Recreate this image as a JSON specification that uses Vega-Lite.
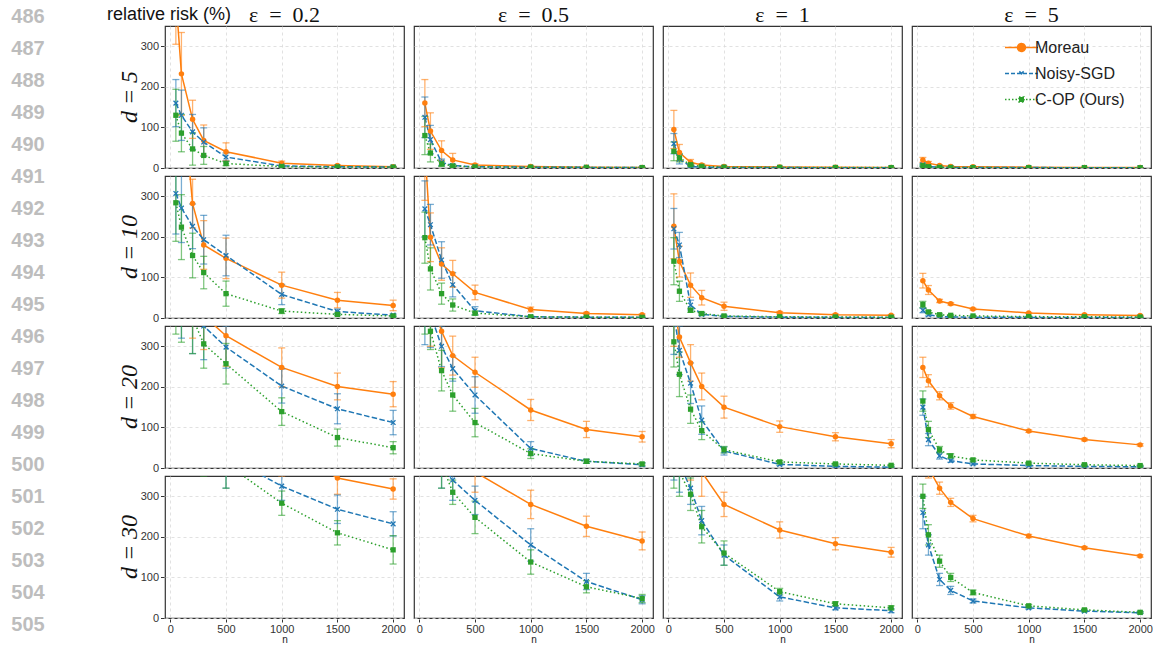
{
 "$schema": "https://vega.github.io/schema/vega-lite/v6.json",
 "padding": {"left": 10, "top": 4, "right": 0, "bottom": 0},
 "background": "white",
 "title": {"text": "relative risk (%)", "anchor": "start", "frame": "bounds", "dx": 97, "dy": 24, "fontSize": 18, "font": "Liberation Sans", "fontWeight": "normal", "color": "#111"},
 "datasets": {
  "lines": [{"k":486},{"k":487},{"k":488},{"k":489},{"k":490},{"k":491},{"k":492},{"k":493},{"k":494},{"k":495},{"k":496},{"k":497},{"k":498},{"k":499},{"k":500},{"k":501},{"k":502},{"k":503},{"k":504},{"k":505}],
  "risk": [
{"d":5,"e":0.2,"m":"Moreau","n":50,"y":420,"lo":305,"hi":535},{"d":5,"e":0.2,"m":"Moreau","n":100,"y":232,"lo":130,"hi":334},{"d":5,"e":0.2,"m":"Moreau","n":200,"y":120,"lo":73,"hi":167},{"d":5,"e":0.2,"m":"Moreau","n":300,"y":68,"lo":30,"hi":106},{"d":5,"e":0.2,"m":"Moreau","n":500,"y":40,"lo":18,"hi":62},{"d":5,"e":0.2,"m":"Moreau","n":1000,"y":12,"lo":7,"hi":17},{"d":5,"e":0.2,"m":"Moreau","n":1500,"y":6,"lo":4,"hi":8},{"d":5,"e":0.2,"m":"Moreau","n":2000,"y":3,"lo":1.5,"hi":4.5},
{"d":5,"e":0.2,"m":"Noisy-SGD","n":50,"y":160,"lo":102,"hi":218},{"d":5,"e":0.2,"m":"Noisy-SGD","n":100,"y":130,"lo":68,"hi":192},{"d":5,"e":0.2,"m":"Noisy-SGD","n":200,"y":89,"lo":46,"hi":132},{"d":5,"e":0.2,"m":"Noisy-SGD","n":300,"y":64,"lo":29,"hi":99},{"d":5,"e":0.2,"m":"Noisy-SGD","n":500,"y":27,"lo":17,"hi":37},{"d":5,"e":0.2,"m":"Noisy-SGD","n":1000,"y":5,"lo":3,"hi":7},{"d":5,"e":0.2,"m":"Noisy-SGD","n":1500,"y":3,"lo":2,"hi":4},{"d":5,"e":0.2,"m":"Noisy-SGD","n":2000,"y":2.5,"lo":1.5,"hi":3.5},
{"d":5,"e":0.2,"m":"C-OP (Ours)","n":50,"y":130,"lo":66,"hi":194},{"d":5,"e":0.2,"m":"C-OP (Ours)","n":100,"y":86,"lo":40,"hi":132},{"d":5,"e":0.2,"m":"C-OP (Ours)","n":200,"y":47,"lo":7,"hi":87},{"d":5,"e":0.2,"m":"C-OP (Ours)","n":300,"y":31,"lo":9,"hi":53},{"d":5,"e":0.2,"m":"C-OP (Ours)","n":500,"y":11,"lo":6,"hi":16},{"d":5,"e":0.2,"m":"C-OP (Ours)","n":1000,"y":3.5,"lo":2,"hi":5},{"d":5,"e":0.2,"m":"C-OP (Ours)","n":1500,"y":2.5,"lo":1.5,"hi":3.5},{"d":5,"e":0.2,"m":"C-OP (Ours)","n":2000,"y":2,"lo":1,"hi":3},
{"d":5,"e":0.5,"m":"Moreau","n":50,"y":160,"lo":102,"hi":218},{"d":5,"e":0.5,"m":"Moreau","n":100,"y":91,"lo":46,"hi":136},{"d":5,"e":0.5,"m":"Moreau","n":200,"y":43,"lo":19,"hi":67},{"d":5,"e":0.5,"m":"Moreau","n":300,"y":20,"lo":4,"hi":36},{"d":5,"e":0.5,"m":"Moreau","n":500,"y":7.5,"lo":4.5,"hi":10.5},{"d":5,"e":0.5,"m":"Moreau","n":1000,"y":3.5,"lo":2,"hi":5},{"d":5,"e":0.5,"m":"Moreau","n":1500,"y":2,"lo":1,"hi":3},{"d":5,"e":0.5,"m":"Moreau","n":2000,"y":1.5,"lo":0.7,"hi":2.3},
{"d":5,"e":0.5,"m":"Noisy-SGD","n":50,"y":125,"lo":75,"hi":175},{"d":5,"e":0.5,"m":"Noisy-SGD","n":100,"y":70,"lo":35,"hi":105},{"d":5,"e":0.5,"m":"Noisy-SGD","n":200,"y":14,"lo":6,"hi":22},{"d":5,"e":0.5,"m":"Noisy-SGD","n":300,"y":6,"lo":3,"hi":9},{"d":5,"e":0.5,"m":"Noisy-SGD","n":500,"y":3,"lo":1.5,"hi":4.5},{"d":5,"e":0.5,"m":"Noisy-SGD","n":1000,"y":2,"lo":1,"hi":3},{"d":5,"e":0.5,"m":"Noisy-SGD","n":1500,"y":1.5,"lo":0.7,"hi":2.3},{"d":5,"e":0.5,"m":"Noisy-SGD","n":2000,"y":1,"lo":0.5,"hi":1.5},
{"d":5,"e":0.5,"m":"C-OP (Ours)","n":50,"y":80,"lo":33,"hi":127},{"d":5,"e":0.5,"m":"C-OP (Ours)","n":100,"y":37,"lo":15,"hi":59},{"d":5,"e":0.5,"m":"C-OP (Ours)","n":200,"y":10,"lo":4,"hi":16},{"d":5,"e":0.5,"m":"C-OP (Ours)","n":300,"y":5,"lo":2.5,"hi":7.5},{"d":5,"e":0.5,"m":"C-OP (Ours)","n":500,"y":2.5,"lo":1.5,"hi":3.5},{"d":5,"e":0.5,"m":"C-OP (Ours)","n":1000,"y":2,"lo":1,"hi":3},{"d":5,"e":0.5,"m":"C-OP (Ours)","n":1500,"y":1.5,"lo":0.7,"hi":2.3},{"d":5,"e":0.5,"m":"C-OP (Ours)","n":2000,"y":1,"lo":0.5,"hi":1.5},
{"d":5,"e":1,"m":"Moreau","n":50,"y":95,"lo":48,"hi":142},{"d":5,"e":1,"m":"Moreau","n":100,"y":38,"lo":18,"hi":58},{"d":5,"e":1,"m":"Moreau","n":200,"y":14,"lo":7,"hi":21},{"d":5,"e":1,"m":"Moreau","n":300,"y":7.5,"lo":4.5,"hi":10.5},{"d":5,"e":1,"m":"Moreau","n":500,"y":4,"lo":2.5,"hi":5.5},{"d":5,"e":1,"m":"Moreau","n":1000,"y":2.5,"lo":1.5,"hi":3.5},{"d":5,"e":1,"m":"Moreau","n":1500,"y":2,"lo":1.2,"hi":2.8},{"d":5,"e":1,"m":"Moreau","n":2000,"y":1.5,"lo":0.9,"hi":2.1},
{"d":5,"e":1,"m":"Noisy-SGD","n":50,"y":60,"lo":35,"hi":85},{"d":5,"e":1,"m":"Noisy-SGD","n":100,"y":22,"lo":10,"hi":34},{"d":5,"e":1,"m":"Noisy-SGD","n":200,"y":4,"lo":2,"hi":6},{"d":5,"e":1,"m":"Noisy-SGD","n":300,"y":2,"lo":1,"hi":3},{"d":5,"e":1,"m":"Noisy-SGD","n":500,"y":1.5,"lo":0.9,"hi":2.1},{"d":5,"e":1,"m":"Noisy-SGD","n":1000,"y":1,"lo":0.5,"hi":1.5},{"d":5,"e":1,"m":"Noisy-SGD","n":1500,"y":0.8,"lo":0.4,"hi":1.2},{"d":5,"e":1,"m":"Noisy-SGD","n":2000,"y":0.7,"lo":0.4,"hi":1},
{"d":5,"e":1,"m":"C-OP (Ours)","n":50,"y":41,"lo":18,"hi":64},{"d":5,"e":1,"m":"C-OP (Ours)","n":100,"y":25,"lo":15,"hi":35},{"d":5,"e":1,"m":"C-OP (Ours)","n":200,"y":8,"lo":5,"hi":11},{"d":5,"e":1,"m":"C-OP (Ours)","n":300,"y":4,"lo":2,"hi":6},{"d":5,"e":1,"m":"C-OP (Ours)","n":500,"y":2,"lo":1,"hi":3},{"d":5,"e":1,"m":"C-OP (Ours)","n":1000,"y":1.5,"lo":0.9,"hi":2.1},{"d":5,"e":1,"m":"C-OP (Ours)","n":1500,"y":1.2,"lo":0.7,"hi":1.7},{"d":5,"e":1,"m":"C-OP (Ours)","n":2000,"y":1,"lo":0.6,"hi":1.4},
{"d":5,"e":5,"m":"Moreau","n":50,"y":20,"lo":14,"hi":26},{"d":5,"e":5,"m":"Moreau","n":100,"y":12,"lo":8,"hi":16},{"d":5,"e":5,"m":"Moreau","n":200,"y":6,"lo":4,"hi":8},{"d":5,"e":5,"m":"Moreau","n":300,"y":4,"lo":2.5,"hi":5.5},{"d":5,"e":5,"m":"Moreau","n":500,"y":3,"lo":2,"hi":4},{"d":5,"e":5,"m":"Moreau","n":1000,"y":2,"lo":1.4,"hi":2.6},{"d":5,"e":5,"m":"Moreau","n":1500,"y":1.5,"lo":1,"hi":2},{"d":5,"e":5,"m":"Moreau","n":2000,"y":1,"lo":0.6,"hi":1.4},
{"d":5,"e":5,"m":"Noisy-SGD","n":50,"y":8,"lo":5,"hi":11},{"d":5,"e":5,"m":"Noisy-SGD","n":100,"y":3.5,"lo":2,"hi":5},{"d":5,"e":5,"m":"Noisy-SGD","n":200,"y":2,"lo":1.2,"hi":2.8},{"d":5,"e":5,"m":"Noisy-SGD","n":300,"y":1.5,"lo":0.9,"hi":2.1},{"d":5,"e":5,"m":"Noisy-SGD","n":500,"y":1.2,"lo":0.7,"hi":1.7},{"d":5,"e":5,"m":"Noisy-SGD","n":1000,"y":1,"lo":0.6,"hi":1.4},{"d":5,"e":5,"m":"Noisy-SGD","n":1500,"y":0.8,"lo":0.5,"hi":1.1},{"d":5,"e":5,"m":"Noisy-SGD","n":2000,"y":0.7,"lo":0.4,"hi":1},
{"d":5,"e":5,"m":"C-OP (Ours)","n":50,"y":6,"lo":4,"hi":8},{"d":5,"e":5,"m":"C-OP (Ours)","n":100,"y":3,"lo":2,"hi":4},{"d":5,"e":5,"m":"C-OP (Ours)","n":200,"y":1.5,"lo":0.9,"hi":2.1},{"d":5,"e":5,"m":"C-OP (Ours)","n":300,"y":1.2,"lo":0.7,"hi":1.7},{"d":5,"e":5,"m":"C-OP (Ours)","n":500,"y":1,"lo":0.6,"hi":1.4},{"d":5,"e":5,"m":"C-OP (Ours)","n":1000,"y":0.8,"lo":0.5,"hi":1.1},{"d":5,"e":5,"m":"C-OP (Ours)","n":1500,"y":0.7,"lo":0.4,"hi":1},{"d":5,"e":5,"m":"C-OP (Ours)","n":2000,"y":0.6,"lo":0.4,"hi":0.8},
{"d":10,"e":0.2,"m":"Moreau","n":50,"y":900,"lo":650,"hi":1150},{"d":10,"e":0.2,"m":"Moreau","n":100,"y":580,"lo":380,"hi":780},{"d":10,"e":0.2,"m":"Moreau","n":200,"y":282,"lo":222,"hi":342},{"d":10,"e":0.2,"m":"Moreau","n":300,"y":180,"lo":120,"hi":240},{"d":10,"e":0.2,"m":"Moreau","n":500,"y":147,"lo":97,"hi":197},{"d":10,"e":0.2,"m":"Moreau","n":1000,"y":81,"lo":49,"hi":113},{"d":10,"e":0.2,"m":"Moreau","n":1500,"y":44,"lo":25,"hi":63},{"d":10,"e":0.2,"m":"Moreau","n":2000,"y":31,"lo":18,"hi":44},
{"d":10,"e":0.2,"m":"Noisy-SGD","n":50,"y":307,"lo":207,"hi":407},{"d":10,"e":0.2,"m":"Noisy-SGD","n":100,"y":271,"lo":186,"hi":356},{"d":10,"e":0.2,"m":"Noisy-SGD","n":200,"y":226,"lo":171,"hi":281},{"d":10,"e":0.2,"m":"Noisy-SGD","n":300,"y":193,"lo":133,"hi":253},{"d":10,"e":0.2,"m":"Noisy-SGD","n":500,"y":154,"lo":104,"hi":204},{"d":10,"e":0.2,"m":"Noisy-SGD","n":1000,"y":58,"lo":33,"hi":83},{"d":10,"e":0.2,"m":"Noisy-SGD","n":1500,"y":16,"lo":10,"hi":22},{"d":10,"e":0.2,"m":"Noisy-SGD","n":2000,"y":7,"lo":4,"hi":10},
{"d":10,"e":0.2,"m":"C-OP (Ours)","n":50,"y":284,"lo":189,"hi":379},{"d":10,"e":0.2,"m":"C-OP (Ours)","n":100,"y":224,"lo":144,"hi":304},{"d":10,"e":0.2,"m":"C-OP (Ours)","n":200,"y":154,"lo":99,"hi":209},{"d":10,"e":0.2,"m":"C-OP (Ours)","n":300,"y":112,"lo":72,"hi":152},{"d":10,"e":0.2,"m":"C-OP (Ours)","n":500,"y":60,"lo":29,"hi":91},{"d":10,"e":0.2,"m":"C-OP (Ours)","n":1000,"y":17,"lo":11,"hi":23},{"d":10,"e":0.2,"m":"C-OP (Ours)","n":1500,"y":9,"lo":6,"hi":12},{"d":10,"e":0.2,"m":"C-OP (Ours)","n":2000,"y":5,"lo":3,"hi":7},
{"d":10,"e":0.5,"m":"Moreau","n":50,"y":420,"lo":290,"hi":550},{"d":10,"e":0.5,"m":"Moreau","n":100,"y":199,"lo":139,"hi":259},{"d":10,"e":0.5,"m":"Moreau","n":200,"y":133,"lo":93,"hi":173},{"d":10,"e":0.5,"m":"Moreau","n":300,"y":109,"lo":76,"hi":142},{"d":10,"e":0.5,"m":"Moreau","n":500,"y":63,"lo":45,"hi":81},{"d":10,"e":0.5,"m":"Moreau","n":1000,"y":21,"lo":15,"hi":27},{"d":10,"e":0.5,"m":"Moreau","n":1500,"y":11,"lo":8,"hi":14},{"d":10,"e":0.5,"m":"Moreau","n":2000,"y":8,"lo":6,"hi":10},
{"d":10,"e":0.5,"m":"Noisy-SGD","n":50,"y":269,"lo":200,"hi":338},{"d":10,"e":0.5,"m":"Noisy-SGD","n":100,"y":230,"lo":180,"hi":280},{"d":10,"e":0.5,"m":"Noisy-SGD","n":200,"y":143,"lo":98,"hi":188},{"d":10,"e":0.5,"m":"Noisy-SGD","n":300,"y":82,"lo":52,"hi":112},{"d":10,"e":0.5,"m":"Noisy-SGD","n":500,"y":18,"lo":8,"hi":28},{"d":10,"e":0.5,"m":"Noisy-SGD","n":1000,"y":3,"lo":1.5,"hi":4.5},{"d":10,"e":0.5,"m":"Noisy-SGD","n":1500,"y":2,"lo":1,"hi":3},{"d":10,"e":0.5,"m":"Noisy-SGD","n":2000,"y":1.5,"lo":0.7,"hi":2.3},
{"d":10,"e":0.5,"m":"C-OP (Ours)","n":50,"y":198,"lo":135,"hi":261},{"d":10,"e":0.5,"m":"C-OP (Ours)","n":100,"y":121,"lo":69,"hi":173},{"d":10,"e":0.5,"m":"C-OP (Ours)","n":200,"y":60,"lo":34,"hi":86},{"d":10,"e":0.5,"m":"C-OP (Ours)","n":300,"y":32,"lo":17,"hi":47},{"d":10,"e":0.5,"m":"C-OP (Ours)","n":500,"y":12,"lo":7,"hi":17},{"d":10,"e":0.5,"m":"C-OP (Ours)","n":1000,"y":3,"lo":1.5,"hi":4.5},{"d":10,"e":0.5,"m":"C-OP (Ours)","n":1500,"y":2,"lo":1,"hi":3},{"d":10,"e":0.5,"m":"C-OP (Ours)","n":2000,"y":1.5,"lo":0.7,"hi":2.3},
{"d":10,"e":1,"m":"Moreau","n":50,"y":226,"lo":146,"hi":306},{"d":10,"e":1,"m":"Moreau","n":100,"y":139,"lo":101,"hi":177},{"d":10,"e":1,"m":"Moreau","n":200,"y":81,"lo":51,"hi":111},{"d":10,"e":1,"m":"Moreau","n":300,"y":50,"lo":32,"hi":68},{"d":10,"e":1,"m":"Moreau","n":500,"y":29,"lo":19,"hi":39},{"d":10,"e":1,"m":"Moreau","n":1000,"y":13,"lo":10,"hi":16},{"d":10,"e":1,"m":"Moreau","n":1500,"y":8,"lo":6,"hi":10},{"d":10,"e":1,"m":"Moreau","n":2000,"y":6.6,"lo":5.1,"hi":8.1},
{"d":10,"e":1,"m":"Noisy-SGD","n":50,"y":220,"lo":170,"hi":270},{"d":10,"e":1,"m":"Noisy-SGD","n":100,"y":180,"lo":149,"hi":211},{"d":10,"e":1,"m":"Noisy-SGD","n":200,"y":32,"lo":20,"hi":44},{"d":10,"e":1,"m":"Noisy-SGD","n":300,"y":9,"lo":6,"hi":12},{"d":10,"e":1,"m":"Noisy-SGD","n":500,"y":4,"lo":2.5,"hi":5.5},{"d":10,"e":1,"m":"Noisy-SGD","n":1000,"y":2,"lo":1.2,"hi":2.8},{"d":10,"e":1,"m":"Noisy-SGD","n":1500,"y":1.5,"lo":0.9,"hi":2.1},{"d":10,"e":1,"m":"Noisy-SGD","n":2000,"y":1,"lo":0.5,"hi":1.5},
{"d":10,"e":1,"m":"C-OP (Ours)","n":50,"y":140,"lo":82,"hi":198},{"d":10,"e":1,"m":"C-OP (Ours)","n":100,"y":66,"lo":41,"hi":91},{"d":10,"e":1,"m":"C-OP (Ours)","n":200,"y":19,"lo":14,"hi":24},{"d":10,"e":1,"m":"C-OP (Ours)","n":300,"y":11,"lo":8,"hi":14},{"d":10,"e":1,"m":"C-OP (Ours)","n":500,"y":5,"lo":3,"hi":7},{"d":10,"e":1,"m":"C-OP (Ours)","n":1000,"y":3,"lo":2,"hi":4},{"d":10,"e":1,"m":"C-OP (Ours)","n":1500,"y":2.5,"lo":1.5,"hi":3.5},{"d":10,"e":1,"m":"C-OP (Ours)","n":2000,"y":2,"lo":1.2,"hi":2.8},
{"d":10,"e":5,"m":"Moreau","n":50,"y":92,"lo":74,"hi":110},{"d":10,"e":5,"m":"Moreau","n":100,"y":69,"lo":58,"hi":80},{"d":10,"e":5,"m":"Moreau","n":200,"y":42,"lo":38,"hi":46},{"d":10,"e":5,"m":"Moreau","n":300,"y":35,"lo":32,"hi":38},{"d":10,"e":5,"m":"Moreau","n":500,"y":22,"lo":20,"hi":24},{"d":10,"e":5,"m":"Moreau","n":1000,"y":12.4,"lo":11.2,"hi":13.6},{"d":10,"e":5,"m":"Moreau","n":1500,"y":8,"lo":7,"hi":9},{"d":10,"e":5,"m":"Moreau","n":2000,"y":6,"lo":5.2,"hi":6.8},
{"d":10,"e":5,"m":"Noisy-SGD","n":50,"y":19,"lo":13,"hi":25},{"d":10,"e":5,"m":"Noisy-SGD","n":100,"y":8,"lo":5,"hi":11},{"d":10,"e":5,"m":"Noisy-SGD","n":200,"y":4,"lo":2.5,"hi":5.5},{"d":10,"e":5,"m":"Noisy-SGD","n":300,"y":2.5,"lo":1.5,"hi":3.5},{"d":10,"e":5,"m":"Noisy-SGD","n":500,"y":2,"lo":1.2,"hi":2.8},{"d":10,"e":5,"m":"Noisy-SGD","n":1000,"y":1.5,"lo":1,"hi":2},{"d":10,"e":5,"m":"Noisy-SGD","n":1500,"y":1.5,"lo":1,"hi":2},{"d":10,"e":5,"m":"Noisy-SGD","n":2000,"y":1.2,"lo":0.8,"hi":1.6},
{"d":10,"e":5,"m":"C-OP (Ours)","n":50,"y":33,"lo":25,"hi":41},{"d":10,"e":5,"m":"C-OP (Ours)","n":100,"y":15,"lo":12,"hi":18},{"d":10,"e":5,"m":"C-OP (Ours)","n":200,"y":8,"lo":6,"hi":10},{"d":10,"e":5,"m":"C-OP (Ours)","n":300,"y":6.6,"lo":5.1,"hi":8.1},{"d":10,"e":5,"m":"C-OP (Ours)","n":500,"y":5,"lo":4,"hi":6},{"d":10,"e":5,"m":"C-OP (Ours)","n":1000,"y":3.5,"lo":2.7,"hi":4.3},{"d":10,"e":5,"m":"C-OP (Ours)","n":1500,"y":3,"lo":2.3,"hi":3.7},{"d":10,"e":5,"m":"C-OP (Ours)","n":2000,"y":2.5,"lo":1.9,"hi":3.1},
{"d":20,"e":0.2,"m":"Moreau","n":50,"y":800,"lo":600,"hi":1000},{"d":20,"e":0.2,"m":"Moreau","n":100,"y":600,"lo":420,"hi":780},{"d":20,"e":0.2,"m":"Moreau","n":200,"y":450,"lo":320,"hi":580},{"d":20,"e":0.2,"m":"Moreau","n":300,"y":375,"lo":292,"hi":458},{"d":20,"e":0.2,"m":"Moreau","n":500,"y":326,"lo":251,"hi":401},{"d":20,"e":0.2,"m":"Moreau","n":1000,"y":248,"lo":200,"hi":296},{"d":20,"e":0.2,"m":"Moreau","n":1500,"y":201,"lo":168,"hi":234},{"d":20,"e":0.2,"m":"Moreau","n":2000,"y":182,"lo":151,"hi":213},
{"d":20,"e":0.2,"m":"Noisy-SGD","n":50,"y":700,"lo":450,"hi":950},{"d":20,"e":0.2,"m":"Noisy-SGD","n":100,"y":550,"lo":320,"hi":780},{"d":20,"e":0.2,"m":"Noisy-SGD","n":200,"y":420,"lo":282,"hi":558},{"d":20,"e":0.2,"m":"Noisy-SGD","n":300,"y":350,"lo":267,"hi":433},{"d":20,"e":0.2,"m":"Noisy-SGD","n":500,"y":298,"lo":246,"hi":350},{"d":20,"e":0.2,"m":"Noisy-SGD","n":1000,"y":202,"lo":160,"hi":244},{"d":20,"e":0.2,"m":"Noisy-SGD","n":1500,"y":146,"lo":109,"hi":183},{"d":20,"e":0.2,"m":"Noisy-SGD","n":2000,"y":112,"lo":82,"hi":142},
{"d":20,"e":0.2,"m":"C-OP (Ours)","n":50,"y":480,"lo":330,"hi":630},{"d":20,"e":0.2,"m":"C-OP (Ours)","n":100,"y":400,"lo":310,"hi":490},{"d":20,"e":0.2,"m":"C-OP (Ours)","n":200,"y":370,"lo":282,"hi":458},{"d":20,"e":0.2,"m":"C-OP (Ours)","n":300,"y":306,"lo":246,"hi":366},{"d":20,"e":0.2,"m":"C-OP (Ours)","n":500,"y":257,"lo":207,"hi":307},{"d":20,"e":0.2,"m":"C-OP (Ours)","n":1000,"y":139,"lo":105,"hi":173},{"d":20,"e":0.2,"m":"C-OP (Ours)","n":1500,"y":75,"lo":54,"hi":96},{"d":20,"e":0.2,"m":"C-OP (Ours)","n":2000,"y":50,"lo":35,"hi":65},
{"d":20,"e":0.5,"m":"Moreau","n":50,"y":550,"lo":400,"hi":700},{"d":20,"e":0.5,"m":"Moreau","n":100,"y":420,"lo":300,"hi":540},{"d":20,"e":0.5,"m":"Moreau","n":200,"y":337,"lo":247,"hi":427},{"d":20,"e":0.5,"m":"Moreau","n":300,"y":277,"lo":229,"hi":325},{"d":20,"e":0.5,"m":"Moreau","n":500,"y":236,"lo":199,"hi":273},{"d":20,"e":0.5,"m":"Moreau","n":1000,"y":143,"lo":117,"hi":169},{"d":20,"e":0.5,"m":"Moreau","n":1500,"y":95,"lo":75,"hi":115},{"d":20,"e":0.5,"m":"Moreau","n":2000,"y":77,"lo":64,"hi":90},
{"d":20,"e":0.5,"m":"Noisy-SGD","n":50,"y":420,"lo":304,"hi":536},{"d":20,"e":0.5,"m":"Noisy-SGD","n":100,"y":380,"lo":297,"hi":463},{"d":20,"e":0.5,"m":"Noisy-SGD","n":200,"y":300,"lo":250,"hi":350},{"d":20,"e":0.5,"m":"Noisy-SGD","n":300,"y":245,"lo":214,"hi":276},{"d":20,"e":0.5,"m":"Noisy-SGD","n":500,"y":180,"lo":135,"hi":225},{"d":20,"e":0.5,"m":"Noisy-SGD","n":1000,"y":48,"lo":31,"hi":65},{"d":20,"e":0.5,"m":"Noisy-SGD","n":1500,"y":16.5,"lo":11.5,"hi":21.5},{"d":20,"e":0.5,"m":"Noisy-SGD","n":2000,"y":8,"lo":4,"hi":12},
{"d":20,"e":0.5,"m":"C-OP (Ours)","n":50,"y":420,"lo":330,"hi":510},{"d":20,"e":0.5,"m":"C-OP (Ours)","n":100,"y":337,"lo":292,"hi":382},{"d":20,"e":0.5,"m":"C-OP (Ours)","n":200,"y":240,"lo":190,"hi":290},{"d":20,"e":0.5,"m":"C-OP (Ours)","n":300,"y":180,"lo":140,"hi":220},{"d":20,"e":0.5,"m":"C-OP (Ours)","n":500,"y":112,"lo":77,"hi":147},{"d":20,"e":0.5,"m":"C-OP (Ours)","n":1000,"y":35.5,"lo":23.5,"hi":47.5},{"d":20,"e":0.5,"m":"C-OP (Ours)","n":1500,"y":16.5,"lo":11.5,"hi":21.5},{"d":20,"e":0.5,"m":"C-OP (Ours)","n":2000,"y":10,"lo":7,"hi":13},
{"d":20,"e":1,"m":"Moreau","n":50,"y":400,"lo":300,"hi":500},{"d":20,"e":1,"m":"Moreau","n":100,"y":323,"lo":273,"hi":373},{"d":20,"e":1,"m":"Moreau","n":200,"y":259,"lo":214,"hi":304},{"d":20,"e":1,"m":"Moreau","n":300,"y":201,"lo":168,"hi":234},{"d":20,"e":1,"m":"Moreau","n":500,"y":150,"lo":123,"hi":177},{"d":20,"e":1,"m":"Moreau","n":1000,"y":102,"lo":88,"hi":116},{"d":20,"e":1,"m":"Moreau","n":1500,"y":77,"lo":67,"hi":87},{"d":20,"e":1,"m":"Moreau","n":2000,"y":60,"lo":50,"hi":70},
{"d":20,"e":1,"m":"Noisy-SGD","n":50,"y":380,"lo":280,"hi":480},{"d":20,"e":1,"m":"Noisy-SGD","n":100,"y":290,"lo":230,"hi":350},{"d":20,"e":1,"m":"Noisy-SGD","n":200,"y":209,"lo":159,"hi":259},{"d":20,"e":1,"m":"Noisy-SGD","n":300,"y":118,"lo":83,"hi":153},{"d":20,"e":1,"m":"Noisy-SGD","n":500,"y":42,"lo":32,"hi":52},{"d":20,"e":1,"m":"Noisy-SGD","n":1000,"y":9,"lo":6,"hi":12},{"d":20,"e":1,"m":"Noisy-SGD","n":1500,"y":4,"lo":2.5,"hi":5.5},{"d":20,"e":1,"m":"Noisy-SGD","n":2000,"y":2,"lo":1,"hi":3},
{"d":20,"e":1,"m":"C-OP (Ours)","n":50,"y":311,"lo":249,"hi":373},{"d":20,"e":1,"m":"C-OP (Ours)","n":100,"y":231,"lo":176,"hi":286},{"d":20,"e":1,"m":"C-OP (Ours)","n":200,"y":145,"lo":110,"hi":180},{"d":20,"e":1,"m":"C-OP (Ours)","n":300,"y":92,"lo":70,"hi":114},{"d":20,"e":1,"m":"C-OP (Ours)","n":500,"y":45,"lo":37,"hi":53},{"d":20,"e":1,"m":"C-OP (Ours)","n":1000,"y":15,"lo":12,"hi":18},{"d":20,"e":1,"m":"C-OP (Ours)","n":1500,"y":10,"lo":8,"hi":12},{"d":20,"e":1,"m":"C-OP (Ours)","n":2000,"y":6.6,"lo":4.6,"hi":8.6},
{"d":20,"e":5,"m":"Moreau","n":50,"y":248,"lo":223,"hi":273},{"d":20,"e":5,"m":"Moreau","n":100,"y":215,"lo":200,"hi":230},{"d":20,"e":5,"m":"Moreau","n":200,"y":178,"lo":168,"hi":188},{"d":20,"e":5,"m":"Moreau","n":300,"y":153,"lo":145,"hi":161},{"d":20,"e":5,"m":"Moreau","n":500,"y":127,"lo":122,"hi":132},{"d":20,"e":5,"m":"Moreau","n":1000,"y":91,"lo":88,"hi":94},{"d":20,"e":5,"m":"Moreau","n":1500,"y":70,"lo":67,"hi":73},{"d":20,"e":5,"m":"Moreau","n":2000,"y":57,"lo":54,"hi":60},
{"d":20,"e":5,"m":"Noisy-SGD","n":50,"y":150,"lo":130,"hi":170},{"d":20,"e":5,"m":"Noisy-SGD","n":100,"y":70,"lo":55,"hi":85},{"d":20,"e":5,"m":"Noisy-SGD","n":200,"y":30,"lo":22,"hi":38},{"d":20,"e":5,"m":"Noisy-SGD","n":300,"y":18,"lo":14,"hi":22},{"d":20,"e":5,"m":"Noisy-SGD","n":500,"y":10,"lo":8,"hi":12},{"d":20,"e":5,"m":"Noisy-SGD","n":1000,"y":6,"lo":4.5,"hi":7.5},{"d":20,"e":5,"m":"Noisy-SGD","n":1500,"y":4,"lo":3,"hi":5},{"d":20,"e":5,"m":"Noisy-SGD","n":2000,"y":3,"lo":2,"hi":4},
{"d":20,"e":5,"m":"C-OP (Ours)","n":50,"y":165,"lo":140,"hi":190},{"d":20,"e":5,"m":"C-OP (Ours)","n":100,"y":95,"lo":75,"hi":115},{"d":20,"e":5,"m":"C-OP (Ours)","n":200,"y":45,"lo":37,"hi":53},{"d":20,"e":5,"m":"C-OP (Ours)","n":300,"y":30,"lo":25,"hi":35},{"d":20,"e":5,"m":"C-OP (Ours)","n":500,"y":20,"lo":17,"hi":23},{"d":20,"e":5,"m":"C-OP (Ours)","n":1000,"y":12,"lo":10,"hi":14},{"d":20,"e":5,"m":"C-OP (Ours)","n":1500,"y":8,"lo":6.5,"hi":9.5},{"d":20,"e":5,"m":"C-OP (Ours)","n":2000,"y":6,"lo":5,"hi":7},
{"d":30,"e":0.2,"m":"Moreau","n":50,"y":1100,"lo":800,"hi":1400},{"d":30,"e":0.2,"m":"Moreau","n":100,"y":900,"lo":650,"hi":1150},{"d":30,"e":0.2,"m":"Moreau","n":200,"y":700,"lo":500,"hi":900},{"d":30,"e":0.2,"m":"Moreau","n":300,"y":600,"lo":450,"hi":750},{"d":30,"e":0.2,"m":"Moreau","n":500,"y":520,"lo":400,"hi":640},{"d":30,"e":0.2,"m":"Moreau","n":1000,"y":430,"lo":350,"hi":510},{"d":30,"e":0.2,"m":"Moreau","n":1500,"y":345,"lo":305,"hi":385},{"d":30,"e":0.2,"m":"Moreau","n":2000,"y":318,"lo":293,"hi":343},
{"d":30,"e":0.2,"m":"Noisy-SGD","n":50,"y":900,"lo":650,"hi":1150},{"d":30,"e":0.2,"m":"Noisy-SGD","n":100,"y":700,"lo":500,"hi":900},{"d":30,"e":0.2,"m":"Noisy-SGD","n":200,"y":550,"lo":400,"hi":700},{"d":30,"e":0.2,"m":"Noisy-SGD","n":300,"y":480,"lo":360,"hi":600},{"d":30,"e":0.2,"m":"Noisy-SGD","n":500,"y":400,"lo":320,"hi":480},{"d":30,"e":0.2,"m":"Noisy-SGD","n":1000,"y":325,"lo":290,"hi":360},{"d":30,"e":0.2,"m":"Noisy-SGD","n":1500,"y":268,"lo":233,"hi":303},{"d":30,"e":0.2,"m":"Noisy-SGD","n":2000,"y":232,"lo":202,"hi":262},
{"d":30,"e":0.2,"m":"C-OP (Ours)","n":50,"y":800,"lo":600,"hi":1000},{"d":30,"e":0.2,"m":"C-OP (Ours)","n":100,"y":650,"lo":470,"hi":830},{"d":30,"e":0.2,"m":"C-OP (Ours)","n":200,"y":520,"lo":400,"hi":640},{"d":30,"e":0.2,"m":"C-OP (Ours)","n":300,"y":450,"lo":350,"hi":550},{"d":30,"e":0.2,"m":"C-OP (Ours)","n":500,"y":380,"lo":320,"hi":440},{"d":30,"e":0.2,"m":"C-OP (Ours)","n":1000,"y":283,"lo":253,"hi":313},{"d":30,"e":0.2,"m":"C-OP (Ours)","n":1500,"y":210,"lo":180,"hi":240},{"d":30,"e":0.2,"m":"C-OP (Ours)","n":2000,"y":168,"lo":133,"hi":203},
{"d":30,"e":0.5,"m":"Moreau","n":50,"y":900,"lo":700,"hi":1100},{"d":30,"e":0.5,"m":"Moreau","n":100,"y":700,"lo":550,"hi":850},{"d":30,"e":0.5,"m":"Moreau","n":200,"y":550,"lo":450,"hi":650},{"d":30,"e":0.5,"m":"Moreau","n":300,"y":450,"lo":380,"hi":520},{"d":30,"e":0.5,"m":"Moreau","n":500,"y":360,"lo":310,"hi":410},{"d":30,"e":0.5,"m":"Moreau","n":1000,"y":280,"lo":245,"hi":315},{"d":30,"e":0.5,"m":"Moreau","n":1500,"y":226,"lo":201,"hi":251},{"d":30,"e":0.5,"m":"Moreau","n":2000,"y":190,"lo":168,"hi":212},
{"d":30,"e":0.5,"m":"Noisy-SGD","n":50,"y":600,"lo":480,"hi":720},{"d":30,"e":0.5,"m":"Noisy-SGD","n":100,"y":450,"lo":370,"hi":530},{"d":30,"e":0.5,"m":"Noisy-SGD","n":200,"y":380,"lo":320,"hi":440},{"d":30,"e":0.5,"m":"Noisy-SGD","n":300,"y":340,"lo":290,"hi":390},{"d":30,"e":0.5,"m":"Noisy-SGD","n":500,"y":290,"lo":255,"hi":325},{"d":30,"e":0.5,"m":"Noisy-SGD","n":1000,"y":180,"lo":140,"hi":220},{"d":30,"e":0.5,"m":"Noisy-SGD","n":1500,"y":90,"lo":70,"hi":110},{"d":30,"e":0.5,"m":"Noisy-SGD","n":2000,"y":45,"lo":35,"hi":55},
{"d":30,"e":0.5,"m":"C-OP (Ours)","n":50,"y":500,"lo":400,"hi":600},{"d":30,"e":0.5,"m":"C-OP (Ours)","n":100,"y":450,"lo":370,"hi":530},{"d":30,"e":0.5,"m":"C-OP (Ours)","n":200,"y":380,"lo":320,"hi":440},{"d":30,"e":0.5,"m":"C-OP (Ours)","n":300,"y":310,"lo":280,"hi":340},{"d":30,"e":0.5,"m":"C-OP (Ours)","n":500,"y":248,"lo":208,"hi":288},{"d":30,"e":0.5,"m":"C-OP (Ours)","n":1000,"y":138,"lo":108,"hi":168},{"d":30,"e":0.5,"m":"C-OP (Ours)","n":1500,"y":77,"lo":62,"hi":92},{"d":30,"e":0.5,"m":"C-OP (Ours)","n":2000,"y":48,"lo":38,"hi":58},
{"d":30,"e":1,"m":"Moreau","n":50,"y":500,"lo":400,"hi":600},{"d":30,"e":1,"m":"Moreau","n":100,"y":450,"lo":370,"hi":530},{"d":30,"e":1,"m":"Moreau","n":200,"y":400,"lo":340,"hi":460},{"d":30,"e":1,"m":"Moreau","n":300,"y":360,"lo":300,"hi":420},{"d":30,"e":1,"m":"Moreau","n":500,"y":280,"lo":250,"hi":310},{"d":30,"e":1,"m":"Moreau","n":1000,"y":217,"lo":197,"hi":237},{"d":30,"e":1,"m":"Moreau","n":1500,"y":183,"lo":168,"hi":198},{"d":30,"e":1,"m":"Moreau","n":2000,"y":162,"lo":150,"hi":174},
{"d":30,"e":1,"m":"Noisy-SGD","n":50,"y":420,"lo":340,"hi":500},{"d":30,"e":1,"m":"Noisy-SGD","n":100,"y":380,"lo":310,"hi":450},{"d":30,"e":1,"m":"Noisy-SGD","n":200,"y":320,"lo":280,"hi":360},{"d":30,"e":1,"m":"Noisy-SGD","n":300,"y":240,"lo":205,"hi":275},{"d":30,"e":1,"m":"Noisy-SGD","n":500,"y":155,"lo":130,"hi":180},{"d":30,"e":1,"m":"Noisy-SGD","n":1000,"y":52,"lo":42,"hi":62},{"d":30,"e":1,"m":"Noisy-SGD","n":1500,"y":25,"lo":20,"hi":30},{"d":30,"e":1,"m":"Noisy-SGD","n":2000,"y":18,"lo":13,"hi":23},
{"d":30,"e":1,"m":"C-OP (Ours)","n":50,"y":400,"lo":320,"hi":480},{"d":30,"e":1,"m":"C-OP (Ours)","n":100,"y":360,"lo":300,"hi":420},{"d":30,"e":1,"m":"C-OP (Ours)","n":200,"y":305,"lo":265,"hi":345},{"d":30,"e":1,"m":"C-OP (Ours)","n":300,"y":225,"lo":185,"hi":265},{"d":30,"e":1,"m":"C-OP (Ours)","n":500,"y":160,"lo":130,"hi":190},{"d":30,"e":1,"m":"C-OP (Ours)","n":1000,"y":65,"lo":57,"hi":73},{"d":30,"e":1,"m":"C-OP (Ours)","n":1500,"y":35,"lo":30,"hi":40},{"d":30,"e":1,"m":"C-OP (Ours)","n":2000,"y":25,"lo":20,"hi":30},
{"d":30,"e":5,"m":"Moreau","n":50,"y":450,"lo":390,"hi":510},{"d":30,"e":5,"m":"Moreau","n":100,"y":370,"lo":345,"hi":395},{"d":30,"e":5,"m":"Moreau","n":200,"y":320,"lo":305,"hi":335},{"d":30,"e":5,"m":"Moreau","n":300,"y":285,"lo":275,"hi":295},{"d":30,"e":5,"m":"Moreau","n":500,"y":245,"lo":237,"hi":253},{"d":30,"e":5,"m":"Moreau","n":1000,"y":202,"lo":198,"hi":206},{"d":30,"e":5,"m":"Moreau","n":1500,"y":173,"lo":170,"hi":176},{"d":30,"e":5,"m":"Moreau","n":2000,"y":153,"lo":150,"hi":156},
{"d":30,"e":5,"m":"Noisy-SGD","n":50,"y":260,"lo":220,"hi":300},{"d":30,"e":5,"m":"Noisy-SGD","n":100,"y":180,"lo":155,"hi":205},{"d":30,"e":5,"m":"Noisy-SGD","n":200,"y":95,"lo":80,"hi":110},{"d":30,"e":5,"m":"Noisy-SGD","n":300,"y":68,"lo":58,"hi":78},{"d":30,"e":5,"m":"Noisy-SGD","n":500,"y":42,"lo":37,"hi":47},{"d":30,"e":5,"m":"Noisy-SGD","n":1000,"y":25,"lo":22,"hi":28},{"d":30,"e":5,"m":"Noisy-SGD","n":1500,"y":17,"lo":15,"hi":19},{"d":30,"e":5,"m":"Noisy-SGD","n":2000,"y":13,"lo":11,"hi":15},
{"d":30,"e":5,"m":"C-OP (Ours)","n":50,"y":300,"lo":270,"hi":330},{"d":30,"e":5,"m":"C-OP (Ours)","n":100,"y":205,"lo":180,"hi":230},{"d":30,"e":5,"m":"C-OP (Ours)","n":200,"y":140,"lo":125,"hi":155},{"d":30,"e":5,"m":"C-OP (Ours)","n":300,"y":100,"lo":90,"hi":110},{"d":30,"e":5,"m":"C-OP (Ours)","n":500,"y":63,"lo":57,"hi":69},{"d":30,"e":5,"m":"C-OP (Ours)","n":1000,"y":30,"lo":27,"hi":33},{"d":30,"e":5,"m":"C-OP (Ours)","n":1500,"y":20,"lo":18,"hi":22},{"d":30,"e":5,"m":"C-OP (Ours)","n":2000,"y":14,"lo":12,"hi":16}
  ]
 },
 "spacing": 72,
 "hconcat": [
  {
   "data": {"name": "lines"},
   "width": 36,
   "height": 560,
   "view": {"stroke": null},
   "mark": {"type": "text", "font": "Liberation Sans", "fontWeight": "bold", "fontSize": 20, "color": "#bdbdbd"},
   "encoding": {
    "y": {"field": "k", "type": "quantitative", "axis": null, "scale": {"domain": [486.28125, 503.78125], "reverse": true, "zero": false, "nice": false}},
    "text": {"field": "k", "type": "nominal"}
   }
  },
  {
   "data": {"name": "risk"},
   "spacing": {"row": 6, "column": 8},
   "facet": {
    "row": {"field": "d", "type": "ordinal", "title": null, "header": {"labelExpr": "'d = ' + datum.value", "labelFont": "Liberation Serif", "labelFontSize": 24, "labelFontStyle": "italic", "labelColor": "#111", "labelAngle": -90, "labelPadding": -14}},
    "column": {"field": "e", "type": "ordinal", "title": null, "header": {"labelExpr": "'ε\u2002=\u2002' + datum.value", "labelFont": "Liberation Serif", "labelFontSize": 22, "labelColor": "#111", "labelPadding": -2}}
   },
   "spec": {
    "width": 239,
    "height": 142,
    "encoding": {
     "x": {"field": "n", "type": "quantitative", "scale": {"domain": [-47.5, 2097.5], "nice": false, "zero": false}, "axis": {"values": [0, 500, 1000, 1500, 2000], "format": "d", "title": "n", "titlePadding": 0, "titleFontSize": 10, "labelPadding": 1, "tickSize": 3}}
    },
    "layer": [
     {"mark": {"type": "line", "clip": true, "color": "#ff7f0e", "strokeWidth": 1.5}, "transform": [{"filter": "datum.m === 'Moreau'"}], "encoding": {"y": {"field": "y", "type": "quantitative", "title": null, "scale": {"domain": [0, 350], "nice": false}, "axis": {"values": [0, 100, 200, 300], "title": null}}}},
     {"mark": {"type": "line", "clip": true, "color": "#1f77b4", "strokeWidth": 1.5, "strokeDash": [5.5, 2.4]}, "transform": [{"filter": "datum.m === 'Noisy-SGD'"}], "encoding": {"y": {"field": "y", "type": "quantitative", "title": null}}},
     {"mark": {"type": "line", "clip": true, "color": "#2ca02c", "strokeWidth": 1.5, "strokeDash": [1.5, 2.5]}, "transform": [{"filter": "datum.m === 'C-OP (Ours)'"}], "encoding": {"y": {"field": "y", "type": "quantitative", "title": null}}},
     {"mark": {"type": "rule", "clip": true, "strokeWidth": 1.3, "opacity": 0.6, "color": "#ff7f0e"}, "transform": [{"filter": "datum.m === 'Moreau'"}], "encoding": {"y": {"field": "lo", "type": "quantitative", "title": null}, "y2": {"field": "hi"}}},
     {"mark": {"type": "rule", "clip": true, "strokeWidth": 1.3, "opacity": 0.6, "color": "#1f77b4"}, "transform": [{"filter": "datum.m === 'Noisy-SGD'"}], "encoding": {"y": {"field": "lo", "type": "quantitative", "title": null}, "y2": {"field": "hi"}}},
     {"mark": {"type": "rule", "clip": true, "strokeWidth": 1.3, "opacity": 0.6, "color": "#2ca02c"}, "transform": [{"filter": "datum.m === 'C-OP (Ours)'"}], "encoding": {"y": {"field": "lo", "type": "quantitative", "title": null}, "y2": {"field": "hi"}}},
     {"mark": {"type": "tick", "orient": "horizontal", "clip": true, "size": 7, "thickness": 1.3, "opacity": 0.6, "color": "#ff7f0e"}, "transform": [{"filter": "datum.m === 'Moreau'"}], "encoding": {"y": {"field": "lo", "type": "quantitative", "title": null}}},
     {"mark": {"type": "tick", "orient": "horizontal", "clip": true, "size": 7, "thickness": 1.3, "opacity": 0.6, "color": "#ff7f0e"}, "transform": [{"filter": "datum.m === 'Moreau'"}], "encoding": {"y": {"field": "hi", "type": "quantitative", "title": null}}},
     {"mark": {"type": "tick", "orient": "horizontal", "clip": true, "size": 7, "thickness": 1.3, "opacity": 0.6, "color": "#1f77b4"}, "transform": [{"filter": "datum.m === 'Noisy-SGD'"}], "encoding": {"y": {"field": "lo", "type": "quantitative", "title": null}}},
     {"mark": {"type": "tick", "orient": "horizontal", "clip": true, "size": 7, "thickness": 1.3, "opacity": 0.6, "color": "#1f77b4"}, "transform": [{"filter": "datum.m === 'Noisy-SGD'"}], "encoding": {"y": {"field": "hi", "type": "quantitative", "title": null}}},
     {"mark": {"type": "tick", "orient": "horizontal", "clip": true, "size": 7, "thickness": 1.3, "opacity": 0.6, "color": "#2ca02c"}, "transform": [{"filter": "datum.m === 'C-OP (Ours)'"}], "encoding": {"y": {"field": "lo", "type": "quantitative", "title": null}}},
     {"mark": {"type": "tick", "orient": "horizontal", "clip": true, "size": 7, "thickness": 1.3, "opacity": 0.6, "color": "#2ca02c"}, "transform": [{"filter": "datum.m === 'C-OP (Ours)'"}], "encoding": {"y": {"field": "hi", "type": "quantitative", "title": null}}},
     {"mark": {"type": "point", "clip": true, "shape": "circle", "filled": true, "size": 30, "opacity": 1, "color": "#ff7f0e"}, "transform": [{"filter": "datum.m === 'Moreau'"}], "encoding": {"y": {"field": "y", "type": "quantitative", "title": null}}},
     {"mark": {"type": "point", "clip": true, "shape": "M-1,-1L1,1M1,-1L-1,1", "filled": false, "size": 22, "strokeWidth": 1.3, "opacity": 1, "color": "#1f77b4"}, "transform": [{"filter": "datum.m === 'Noisy-SGD'"}], "encoding": {"y": {"field": "y", "type": "quantitative", "title": null}}},
     {"mark": {"type": "point", "clip": true, "shape": "square", "filled": true, "size": 28, "opacity": 1, "color": "#2ca02c"}, "transform": [{"filter": "datum.m === 'C-OP (Ours)'"}], "encoding": {"y": {"field": "y", "type": "quantitative", "title": null}}},
     {"mark": {"type": "point", "clip": true, "opacity": 1, "strokeWidth": 1.5},
      "encoding": {
       "y": {"datum": 100000, "type": "quantitative", "title": null},
       "shape": {"field": "m", "type": "nominal", "title": null, "legend": {"orient": "none", "legendX": 994, "legendY": 4, "title": null, "symbolOpacity": 1}, "scale": {"domain": ["Moreau", "Noisy-SGD", "C-OP (Ours)"], "range": ["M-1,0H1M0.24,0A0.24,0.24,0,1,1,-0.24,0A0.24,0.24,0,1,1,0.24,0Z", "M-1,0H1M-0.13,-0.13L0.13,0.13M0.13,-0.13L-0.13,0.13", "M-1,0H1M-0.15,-0.15H0.15V0.15H-0.15Z"]}},
       "fill": {"field": "m", "type": "nominal", "title": null, "legend": {"orient": "none", "legendX": 994, "legendY": 4, "title": null, "symbolOpacity": 1}, "scale": {"domain": ["Moreau", "Noisy-SGD", "C-OP (Ours)"], "range": ["#ff7f0e", "#1f77b4", "#2ca02c"]}},
       "stroke": {"field": "m", "type": "nominal", "title": null, "legend": {"orient": "none", "legendX": 994, "legendY": 4, "title": null, "symbolOpacity": 1}, "scale": {"domain": ["Moreau", "Noisy-SGD", "C-OP (Ours)"], "range": ["#ff7f0e", "#1f77b4", "#2ca02c"]}},
       "strokeDash": {"field": "m", "type": "nominal", "title": null, "legend": {"orient": "none", "legendX": 994, "legendY": 4, "title": null, "symbolOpacity": 1}, "scale": {"domain": ["Moreau", "Noisy-SGD", "C-OP (Ours)"], "range": [[1, 0], [4, 2], [1.5, 2]]}}
      }
     }
    ]
   }
  }
 ],
 "config": {
  "view": {"stroke": "#333", "strokeWidth": 1.2},
  "font": "Liberation Sans",
  "axis": {"grid": true, "gridColor": "#d9d9d9", "gridDash": [3, 3], "gridWidth": 0.8, "domain": false, "tickColor": "#333", "tickSize": 3.5, "labelFontSize": 11, "labelColor": "#333", "labelFont": "Liberation Sans", "titleFont": "Liberation Sans", "titleFontSize": 11, "titleFontWeight": "normal", "titleColor": "#222", "labelPadding": 2},
  "legend": {"labelFont": "Liberation Sans", "labelFontSize": 16, "labelColor": "#222", "symbolSize": 1089, "symbolStrokeWidth": 1.5, "labelOffset": -4, "rowPadding": -7.5, "padding": 0}
 }
}
